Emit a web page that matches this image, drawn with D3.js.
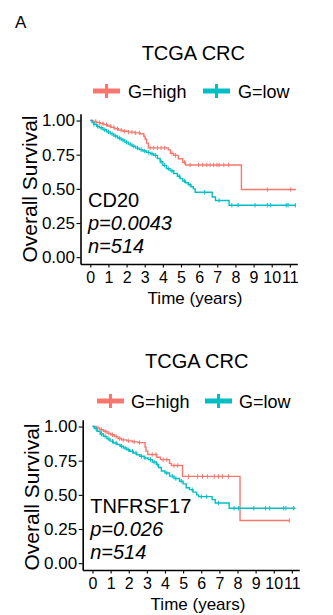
<!DOCTYPE html>
<html>
<head>
<meta charset="utf-8">
<script src="https://cdn.jsdelivr.net/npm/d3@7"></script>
<style>
  body { margin: 0; background: #fff; }
  svg text { font-family: "Liberation Sans", Arial, sans-serif; }
</style>
</head>
<body>
<div id="chart"></div>
<script>
// KM curves: [time, survival] at each step
const groups = ["G=high", "G=low"];
const colors = ["#F8766D", "#00BFC4"];
const xTicks = [0, 1, 2, 3, 4, 5, 6, 7, 8, 9, 10, 11];
const yTicks = [0, 0.25, 0.5, 0.75, 1];
const genes = ["CD20", "TNFRSF17"];
const pLabels = ["p=0.0043", "p=0.026"];
const nLabels = ["n=514", "n=514"];

const cd20High = [[0,1],[0.15,0.993],[0.35,0.985],[0.55,0.978],[0.75,0.97],[0.95,0.96],[1.15,0.95],[1.35,0.94],
  [1.55,0.93],[1.8,0.922],[2.1,0.915],[2.45,0.91],[2.75,0.903],[2.95,0.885],[3.02,0.865],[3.1,0.835],[3.2,0.8],
  [4.3,0.785],[4.42,0.76],[4.6,0.745],[4.85,0.72],[5.1,0.695],[5.25,0.675],[8.33,0.495],[11.34,0.495]];
const cd20Low = [[0,1],[0.1,0.985],[0.2,0.972],[0.35,0.958],[0.5,0.947],[0.7,0.932],[0.9,0.917],[1.1,0.902],
  [1.3,0.887],[1.5,0.872],[1.7,0.857],[1.9,0.842],[2.1,0.827],[2.3,0.812],[2.5,0.798],[2.7,0.787],[2.9,0.777],
  [3.1,0.767],[3.3,0.757],[3.5,0.745],[3.7,0.722],[3.85,0.698],[4.0,0.672],[4.2,0.648],[4.4,0.632],[4.6,0.612],
  [4.8,0.592],[4.95,0.575],[5.1,0.558],[5.25,0.545],[5.4,0.53],[5.55,0.515],[5.68,0.5],[5.78,0.475],[6.72,0.44],
  [6.9,0.415],[7.65,0.38],[11.32,0.38]];
const cd20HighCens = [0.3,0.5,0.7,0.9,1.1,1.3,1.5,1.7,1.9,2.1,2.3,2.5,2.7,3.3,3.5,3.7,3.9,4.1,4.5,4.7,5.2,5.5,
  5.97,6.2,6.43,6.6,6.8,6.98,7.1,7.36,7.63,9.76,11.05];
const cd20LowCens = [0.2,0.4,0.6,0.8,1.0,1.2,1.4,1.6,1.8,2.0,2.2,2.4,2.6,2.8,3.0,3.2,3.4,3.6,3.9,4.1,4.3,4.5,4.9,
  5.2,5.5,6.3,7.1,7.8,8.15,9.08,9.76,9.94,10.8,10.9,11.3];

const tnfHigh = [[0,1],[0.2,0.99],[0.4,0.977],[0.6,0.965],[0.8,0.952],[1.0,0.94],[1.2,0.928],[1.4,0.912],
  [1.6,0.902],[1.9,0.895],[2.2,0.888],[2.5,0.882],[2.9,0.85],[2.95,0.82],[3.05,0.795],[3.55,0.775],[3.75,0.758],
  [4.25,0.73],[4.35,0.715],[4.97,0.635],[8.14,0.312],[10.86,0.312]];
const tnfLow = [[0,1],[0.1,0.985],[0.25,0.965],[0.42,0.945],[0.6,0.928],[0.8,0.91],[0.97,0.893],[1.15,0.88],
  [1.35,0.868],[1.52,0.856],[1.7,0.843],[1.9,0.83],[2.06,0.819],[2.25,0.806],[2.45,0.794],[2.61,0.782],[2.85,0.77],
  [3.07,0.758],[3.3,0.74],[3.52,0.721],[3.65,0.7],[3.8,0.675],[4.0,0.66],[4.25,0.637],[4.5,0.62],[4.8,0.6],
  [5.0,0.58],[5.17,0.552],[5.35,0.538],[5.55,0.52],[5.75,0.5],[5.85,0.487],[6.6,0.465],[6.77,0.44],[7.54,0.402],
  [11.2,0.402]];
const tnfHighCens = [0.3,0.5,0.7,0.9,1.1,1.3,1.5,1.7,2.0,2.3,2.6,3.3,3.5,3.9,4.1,4.5,4.7,5.3,5.8,6.07,6.35,6.72,
  6.95,7.17,7.5,10.86];
const tnfLowCens = [0.2,0.5,0.7,0.9,1.1,1.3,1.6,1.8,2.0,2.2,2.4,2.7,2.9,3.2,3.4,3.6,4.1,4.4,4.6,4.9,5.5,6.0,6.3,
  6.95,7.81,8.05,8.9,9.55,9.78,10.55,10.67,11.1];

const W = 333, H = 615;
const svg = d3.select("#chart").append("svg").attr("width", W).attr("height", H);

svg.append("text").attr("x", 15).attr("y", 28).attr("font-size", 17).text("A");

// survival at time t for a step curve
const survAt = (curve, t) => {
  let s = curve[0][1];
  curve.forEach(p => { if (p[0] <= t) s = p[1]; });
  return s;
};

function drawPanel(i, curves, cens, o) {
  const g = svg.append("g");
  const x = d3.scaleLinear().domain([-0.54, 11.41]).range([o.left, o.right]);
  const y = d3.scaleLinear().domain([-0.05, 1.05]).range([o.bottom, o.bottom - 150.3]);

  g.append("text").attr("x", o.titleX).attr("y", o.titleY).attr("text-anchor", "middle")
    .attr("font-size", 20).text("TCGA CRC");

  // legend
  groups.forEach((grp, k) => {
    const lx = o.legX[k], ly = o.legY;
    g.append("line").attr("x1", lx).attr("x2", lx + 27).attr("y1", ly).attr("y2", ly)
      .attr("stroke", colors[k]).attr("stroke-width", 5);
    g.append("line").attr("x1", lx + 13.5).attr("x2", lx + 13.5).attr("y1", ly - 7).attr("y2", ly + 7)
      .attr("stroke", colors[k]).attr("stroke-width", 3);
    g.append("text").attr("x", lx + o.legGap).attr("y", ly + 6.5).attr("font-size", 18).text(grp);
  });

  const xAxis = g.append("g").attr("transform", `translate(0,${o.bottom})`)
    .call(d3.axisBottom(x).tickValues(xTicks).tickFormat(d3.format("d")).tickSize(3.5).tickPadding(4.5).tickSizeOuter(0));
  const yAxis = g.append("g").attr("transform", `translate(${o.left},0)`)
    .call(d3.axisLeft(y).tickValues(yTicks).tickFormat(d3.format(".2f")).tickSize(4).tickPadding(1.5).tickSizeOuter(0));
  [xAxis, yAxis].forEach(a => {
    a.select(".domain").attr("stroke", "#000").attr("stroke-width", 1.6);
    a.selectAll(".tick line").attr("stroke", "#000").attr("stroke-width", 1.1);
    a.selectAll(".tick text").attr("fill", "#000").attr("font-family", null);
  });
  xAxis.selectAll(".tick text").attr("font-size", 16);
  yAxis.selectAll(".tick text").attr("font-size", 17);

  g.append("text").attr("x", o.xTitleX).attr("y", o.bottom + 39.5).attr("text-anchor", "middle")
    .attr("font-size", 17).text("Time (years)");
  g.append("text").attr("transform", `translate(${o.yTitleX},${o.yTitleY}) rotate(-90)`)
    .attr("text-anchor", "middle").attr("font-size", 21).text("Overall Survival");

  // annotations
  g.append("text").attr("x", o.left + 7.5).attr("y", y(0.37)).attr("font-size", 20).text(genes[i]);
  g.append("text").attr("x", o.left + 7.5).attr("y", y(0.2)).attr("font-size", 20)
    .attr("font-style", "italic").text(pLabels[i]);
  g.append("text").attr("x", o.left + 7.5).attr("y", y(0.03)).attr("font-size", 20)
    .attr("font-style", "italic").text(nLabels[i]);

  const line = d3.line().x(d => x(d[0])).y(d => y(d[1])).curve(d3.curveStepAfter);
  curves.forEach((c, k) => {
    g.append("path").datum(c).attr("fill", "none").attr("stroke", colors[k])
      .attr("stroke-width", 1.4).attr("d", line);
    g.selectAll(null).data(cens[k]).enter().append("line")
      .attr("x1", d => x(d)).attr("x2", d => x(d))
      .attr("y1", d => y(survAt(c, d)) - 2.2).attr("y2", d => y(survAt(c, d)) + 2.2)
      .attr("stroke", colors[k]).attr("stroke-width", 1);
  });
}

drawPanel(0, [cd20High, cd20Low], [cd20HighCens, cd20LowCens], {
  left: 80.5, right: 297.3, bottom: 264, titleX: 193.3, titleY: 60,
  legX: [93, 203], legY: 91, legGap: 35, xTitleX: 195, yTitleX: 37, yTitleY: 189
});
drawPanel(1, [tnfHigh, tnfLow], [tnfHighCens, tnfLowCens], {
  left: 82.7, right: 299.3, bottom: 570, titleX: 196.7, titleY: 368,
  legX: [97, 205], legY: 401, legGap: 34, xTitleX: 198, yTitleX: 38.5, yTitleY: 497
});
</script>
</body>
</html>
